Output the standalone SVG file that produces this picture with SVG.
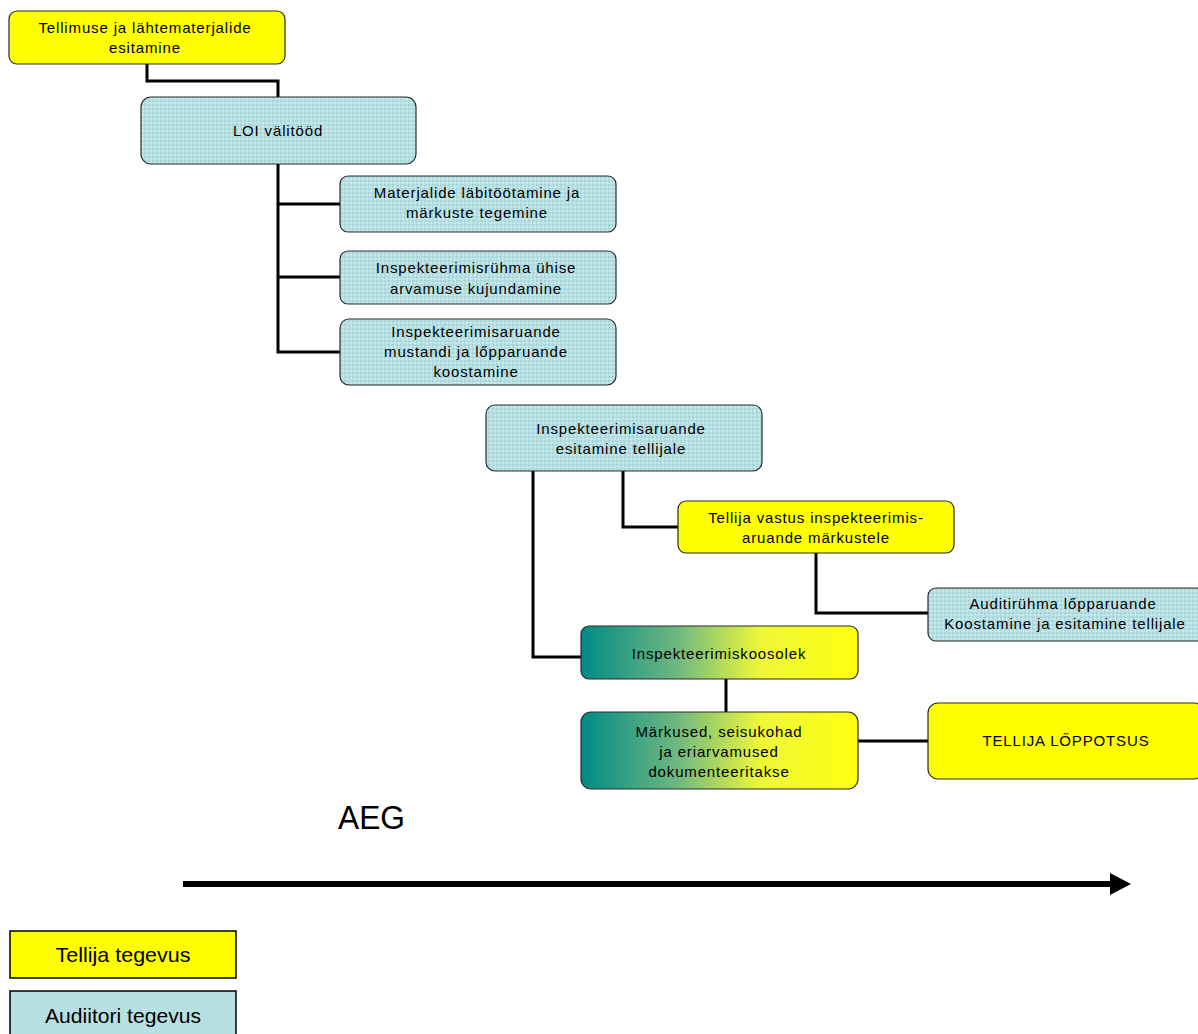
<svg xmlns="http://www.w3.org/2000/svg" width="1198" height="1034" viewBox="0 0 1198 1034">
<style>
.box{stroke:#2a2a2a;stroke-width:1.2}
.y{fill:#ffff00}
.b{fill:url(#dots)}
.g{fill:url(#grad)}
.t{font-family:"Liberation Sans",Arial,sans-serif;font-size:15px;letter-spacing:0.85px;fill:#000;text-anchor:middle}
.c{fill:none;stroke:#000;stroke-width:3}
.lg{font-family:"Liberation Sans",Arial,sans-serif;font-size:21px;fill:#000;text-anchor:middle}
</style>
<defs>
<pattern id="dots" width="4" height="4" patternUnits="userSpaceOnUse">
<rect width="4" height="4" fill="#b6dfe2"/>
<rect width="2" height="2" fill="#a8d6dc"/>
<rect x="2" y="2" width="2" height="2" fill="#c6e8ea"/>
</pattern>
<linearGradient id="grad" x1="0" y1="0" x2="1" y2="0">
<stop offset="0" stop-color="#008a86"/>
<stop offset="0.35" stop-color="#70b880"/>
<stop offset="0.65" stop-color="#eef838"/>
<stop offset="1" stop-color="#ffff10"/>
</linearGradient>
</defs>
<g id="connectors">
<polyline class="c" points="147,64 147,81 278,81 278,97"/>
<polyline class="c" points="278,164 278,352 340,352"/>
<line class="c" x1="278" y1="204" x2="340" y2="204"/>
<line class="c" x1="278" y1="277" x2="340" y2="277"/>
<polyline class="c" points="533,471 533,657 581,657"/>
<polyline class="c" points="623,471 623,527 678,527"/>
<polyline class="c" points="816,553 816,613 928,613"/>
<line class="c" x1="726" y1="679" x2="726" y2="712"/>
<line class="c" x1="858" y1="741" x2="928" y2="741"/>
</g>
<g id="n1"><rect class="box y" x="9" y="11" width="276" height="53" rx="8"/>
<text class="t" x="145" y="33">Tellimuse ja lähtematerjalide</text>
<text class="t" x="145" y="53">esitamine</text></g>
<g id="n2"><rect class="box b" x="141" y="97" width="275" height="67" rx="10"/>
<text class="t" x="278" y="136">LOI välitööd</text></g>
<g id="n3"><rect class="box b" x="340" y="176" width="276" height="56" rx="8"/>
<text class="t" x="477" y="198">Materjalide läbitöötamine ja</text>
<text class="t" x="477" y="218">märkuste tegemine</text></g>
<g id="n4"><rect class="box b" x="340" y="251" width="276" height="53" rx="8"/>
<text class="t" x="476" y="273">Inspekteerimisrühma ühise</text>
<text class="t" x="476" y="294">arvamuse kujundamine</text></g>
<g id="n5"><rect class="box b" x="340" y="319" width="276" height="66" rx="9"/>
<text class="t" x="476" y="337">Inspekteerimisaruande</text>
<text class="t" x="476" y="357">mustandi ja lőpparuande</text>
<text class="t" x="476" y="377">koostamine</text></g>
<g id="n6"><rect class="box b" x="486" y="405" width="276" height="66" rx="9"/>
<text class="t" x="621" y="434">Inspekteerimisaruande</text>
<text class="t" x="621" y="454">esitamine tellijale</text></g>
<g id="n7"><rect class="box y" x="678" y="501" width="276" height="52" rx="8"/>
<text class="t" x="816" y="523">Tellija vastus inspekteerimis-</text>
<text class="t" x="816" y="543">aruande märkustele</text></g>
<g id="n8"><rect class="box b" x="928" y="588" width="276" height="53" rx="8"/>
<text class="t" x="1063" y="609">Auditirühma lőpparuande</text>
<text class="t" x="1065" y="629">Koostamine ja esitamine tellijale</text></g>
<g id="n9"><rect class="box g" x="581" y="626" width="277" height="53" rx="8"/>
<text class="t" x="719" y="659">Inspekteerimiskoosolek</text></g>
<g id="n10"><rect class="box g" x="581" y="712" width="277" height="77" rx="10"/>
<text class="t" x="719" y="737">Märkused, seisukohad</text>
<text class="t" x="719" y="757">ja eriarvamused</text>
<text class="t" x="719" y="777">dokumenteeritakse</text></g>
<g id="n11"><rect class="box y" x="928" y="703" width="276" height="76" rx="10"/>
<text class="t" x="1066" y="746">TELLIJA LŐPPOTSUS</text></g>
<g id="timeline">
<text x="338" y="829" font-family="Liberation Sans,Arial,sans-serif" font-size="33" fill="#000" textLength="67" lengthAdjust="spacingAndGlyphs">AEG</text>
<rect x="183" y="881" width="930" height="6" fill="#000"/>
<polygon points="1110,873 1131,884 1110,895" fill="#000"/>
</g>
<g id="legend">
<rect x="10" y="931" width="226" height="47" fill="#ffff00" stroke="#000" stroke-width="1.5"/>
<text class="lg" x="123" y="962" textLength="135" lengthAdjust="spacingAndGlyphs">Tellija tegevus</text>
<rect x="10" y="991" width="226" height="50" fill="#b8dfe2" stroke="#000" stroke-width="1.5"/>
<text class="lg" x="123" y="1023" textLength="156" lengthAdjust="spacingAndGlyphs">Audiitori tegevus</text>
</g>
</svg>
